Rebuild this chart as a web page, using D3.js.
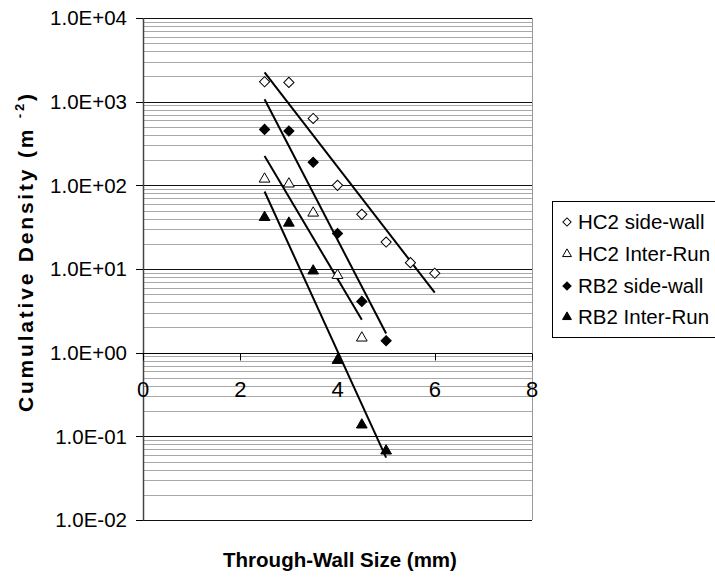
<!DOCTYPE html>
<html>
<head>
<meta charset="utf-8">
<script src="https://cdn.jsdelivr.net/npm/d3@7"></script>
<style>
    body { margin: 0; background: #fff; }
    text { font-family: "Liberation Sans", Arial, sans-serif; fill: #000; }
</style>
</head>
<body>
<div id="chart"></div>
<script>
// Data (x = through-wall size in mm, y = density m^-2)
const sizes = [2.5, 3, 3.5, 4, 4.5, 5, 5.5, 6];
const hc2SideWall = [1730, 1700, 630, 100, 45, 21, 11.9, 8.9];
const hc2InterRun = [119, 104, 46.7, 8.4, 1.5];
const rb2SideWall = [466, 446, 189, 26.6, 4.1, 1.39];
const rb2InterRun = [41.4, 35.4, 9.5, 0.81, 0.137, 0.067];

const seriesNames = ["HC2 side-wall", "HC2 Inter-Run", "RB2 side-wall", "RB2 Inter-Run"];
const xTicks = [0, 2, 4, 6, 8];
const yTicks = [1e-2, 1e-1, 1e0, 1e1, 1e2, 1e3, 1e4];
const yTickLabels = ["1.0E-02", "1.0E-01", "1.0E+00", "1.0E+01", "1.0E+02", "1.0E+03", "1.0E+04"];

// Set up dimensions
const width = 715, height = 578;
const plot = { left: 143, right: 532, top: 18, bottom: 520 };

const svg = d3.select("#chart")
    .append("svg")
    .attr("width", width)
    .attr("height", height);

const x = d3.scaleLinear().domain([0, 8]).range([plot.left, plot.right]);
const y = d3.scaleLog().domain([1e-2, 1e4]).range([plot.bottom, plot.top]);

const crisp = v => Math.round(v) + 0.5;

// Minor gridlines (2..9 of every decade)
const minor = [];
for (let e = -2; e < 4; e++) {
    for (let m = 2; m <= 9; m++) minor.push(m * Math.pow(10, e));
}
svg.append("g").selectAll("line")
    .data(minor)
    .join("line")
    .attr("x1", plot.left).attr("x2", plot.right)
    .attr("y1", d => crisp(y(d))).attr("y2", d => crisp(y(d)))
    .attr("stroke", "#a8a8a8");

// Major gridlines
svg.append("g").selectAll("line")
    .data(yTicks)
    .join("line")
    .attr("x1", plot.left).attr("x2", plot.right)
    .attr("y1", d => crisp(y(d))).attr("y2", d => crisp(y(d)))
    .attr("stroke", "#111");

// Plot border (right side)
svg.append("line")
    .attr("x1", crisp(plot.right)).attr("x2", crisp(plot.right))
    .attr("y1", plot.top).attr("y2", plot.bottom)
    .attr("stroke", "#999");

// Y axis
const yAxis = svg.append("g");
yAxis.append("line")
    .attr("x1", crisp(plot.left)).attr("x2", crisp(plot.left))
    .attr("y1", plot.top).attr("y2", plot.bottom + 0.5)
    .attr("stroke", "#444").attr("stroke-width", 1.5);
yAxis.selectAll("line.tick")
    .data(yTicks)
    .join("line")
    .attr("class", "tick")
    .attr("x1", plot.left - 7).attr("x2", plot.left)
    .attr("y1", d => crisp(y(d))).attr("y2", d => crisp(y(d)))
    .attr("stroke", "#000");
yAxis.selectAll("text")
    .data(yTicks)
    .join("text")
    .attr("x", 127)
    .attr("y", d => y(d))
    .attr("dy", "0.36em")
    .attr("text-anchor", "end")
    .style("font-size", "20.5px")
    .text((d, i) => yTickLabels[i]);

// X axis crosses at y = 1
const xAxisY = crisp(y(1));
const xAxis = svg.append("g");
xAxis.append("line")
    .attr("x1", plot.left).attr("x2", plot.right)
    .attr("y1", xAxisY).attr("y2", xAxisY)
    .attr("stroke", "#000");
xAxis.selectAll("line.tick")
    .data(xTicks)
    .join("line")
    .attr("class", "tick")
    .attr("x1", d => crisp(x(d))).attr("x2", d => crisp(x(d)))
    .attr("y1", xAxisY).attr("y2", xAxisY + 7)
    .attr("stroke", "#000");
xAxis.selectAll("text")
    .data(xTicks)
    .join("text")
    .attr("x", d => x(d))
    .attr("y", 397)
    .attr("text-anchor", "middle")
    .style("font-size", "22px")
    .text(d => d);

// Exponential trendline (least squares on log y)
function expFit(xs, ys) {
    const ls = ys.map(v => Math.log(v));
    const mx = d3.mean(xs), ml = d3.mean(ls);
    let sxy = 0, sxx = 0;
    xs.forEach((v, i) => { sxy += (v - mx) * (ls[i] - ml); sxx += (v - mx) * (v - mx); });
    const b = sxy / sxx;
    const a = ml - b * mx;
    return v => Math.exp(a + b * v);
}

const series = [
    { name: seriesNames[0], values: hc2SideWall, shape: "diamond", filled: false },
    { name: seriesNames[1], values: hc2InterRun, shape: "triangle", filled: false },
    { name: seriesNames[2], values: rb2SideWall, shape: "diamond", filled: true },
    { name: seriesNames[3], values: rb2InterRun, shape: "triangle", filled: true }
];

function markerPath(shape, size) {
    if (shape === "diamond") return d3.symbol(d3.symbolSquare, size)();
    return d3.symbol(d3.symbolTriangle, size)();
}

const line = d3.line().x(d => x(d[0])).y(d => y(d[1]));

series.forEach(s => {
    const xs = sizes.slice(0, s.values.length);
    const fit = expFit(xs, s.values);
    const ends = [xs[0], xs[xs.length - 1]].map(v => [v, fit(v)]);
    svg.append("path")
        .attr("d", line(ends))
        .attr("fill", "none")
        .attr("stroke", "#000")
        .attr("stroke-width", 2);
});

series.forEach(s => {
    const xs = sizes.slice(0, s.values.length);
    svg.append("g").selectAll("path")
        .data(xs.map((v, i) => [v, s.values[i]]))
        .join("path")
        .attr("d", markerPath(s.shape, s.shape === "diamond" ? 52 : 50))
        .attr("transform", d => `translate(${x(d[0])},${y(d[1])})` + (s.shape === "diamond" ? " rotate(45)" : ""))
        .attr("fill", s.filled ? "#000" : "#fff")
        .attr("stroke", "#000")
        .attr("stroke-width", 1);
});

// Legend
const legend = svg.append("g");
legend.append("rect")
    .attr("x", 552.5).attr("y", 201.5)
    .attr("width", 200).attr("height", 136)
    .attr("fill", "#fff")
    .attr("stroke", "#000");
const rowY = [222, 254, 286, 317];
series.forEach((s, i) => {
    legend.append("path")
        .attr("d", markerPath(s.shape, s.shape === "diamond" ? 34 : 34))
        .attr("transform", `translate(567,${rowY[i]})` + (s.shape === "diamond" ? " rotate(45)" : ""))
        .attr("fill", s.filled ? "#000" : "#fff")
        .attr("stroke", "#000")
        .attr("stroke-width", 1);
    legend.append("text")
        .attr("x", 578)
        .attr("y", rowY[i])
        .attr("dy", "0.36em")
        .style("font-size", "20.5px")
        .text(s.name);
});

// Axis titles
svg.append("text")
    .attr("x", 340)
    .attr("y", 567)
    .attr("text-anchor", "middle")
    .style("font-size", "20.5px")
    .style("font-weight", "bold")
    .text("Through-Wall Size (mm)");

const yTitle = svg.append("text")
    .attr("transform", "translate(33,253) rotate(-90)")
    .attr("text-anchor", "middle")
    .style("font-size", "21px")
    .style("font-weight", "bold")
    .attr("textLength", 318)
    .attr("lengthAdjust", "spacing");
yTitle.append("tspan").text("Cumulative Density (m ");
yTitle.append("tspan").attr("dy", -9).style("font-size", "13px").text(" -2");
yTitle.append("tspan").attr("dy", 9).text(")");
</script>
</body>
</html>
